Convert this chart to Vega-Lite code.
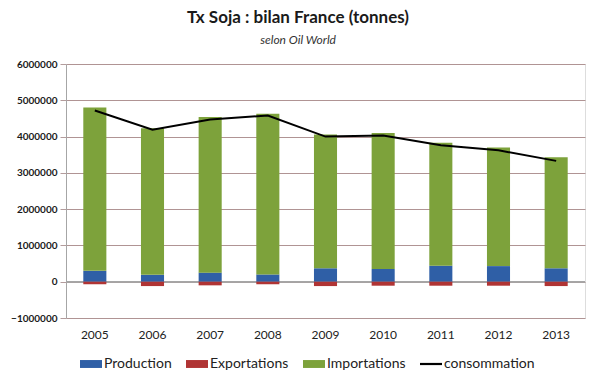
{
  "$schema": "https://vega.github.io/schema/vega-lite/v6.json",
  "width": 519,
  "height": 254,
  "autosize": "none",
  "padding": {"left": 66, "top": 64, "right": 15, "bottom": 61},
  "background": "white",
  "config": {
    "axisY": {
      "labelOverlap": false,
      "labelFlush": false,
      "labelBound": false
    }
  },
  "title": {
    "text": "Tx Soja : bilan France (tonnes)",
    "subtitle": "selon Oil World",
    "anchor": "middle",
    "frame": "bounds",
    "font": "Lato",
    "fontSize": 17,
    "fontWeight": "bold",
    "color": "#1a1a1a",
    "subtitleFont": "Lato",
    "subtitleFontSize": 12,
    "subtitleFontStyle": "italic",
    "subtitleColor": "#333333",
    "subtitlePadding": 8,
    "offset": 12
  },
  "data": {
    "values": [
      {"annee": "2005", "serie": "Production", "valeur": 300000},
      {"annee": "2006", "serie": "Production", "valeur": 190000},
      {"annee": "2007", "serie": "Production", "valeur": 250000},
      {"annee": "2008", "serie": "Production", "valeur": 200000},
      {"annee": "2009", "serie": "Production", "valeur": 370000},
      {"annee": "2010", "serie": "Production", "valeur": 350000},
      {"annee": "2011", "serie": "Production", "valeur": 440000},
      {"annee": "2012", "serie": "Production", "valeur": 430000},
      {"annee": "2013", "serie": "Production", "valeur": 370000},
      {"annee": "2005", "serie": "Exportations", "valeur": -70000},
      {"annee": "2006", "serie": "Exportations", "valeur": -120000},
      {"annee": "2007", "serie": "Exportations", "valeur": -100000},
      {"annee": "2008", "serie": "Exportations", "valeur": -70000},
      {"annee": "2009", "serie": "Exportations", "valeur": -120000},
      {"annee": "2010", "serie": "Exportations", "valeur": -110000},
      {"annee": "2011", "serie": "Exportations", "valeur": -110000},
      {"annee": "2012", "serie": "Exportations", "valeur": -110000},
      {"annee": "2013", "serie": "Exportations", "valeur": -120000},
      {"annee": "2005", "serie": "Importations", "valeur": 4500000},
      {"annee": "2006", "serie": "Importations", "valeur": 4040000},
      {"annee": "2007", "serie": "Importations", "valeur": 4290000},
      {"annee": "2008", "serie": "Importations", "valeur": 4430000},
      {"annee": "2009", "serie": "Importations", "valeur": 3690000},
      {"annee": "2010", "serie": "Importations", "valeur": 3750000},
      {"annee": "2011", "serie": "Importations", "valeur": 3390000},
      {"annee": "2012", "serie": "Importations", "valeur": 3270000},
      {"annee": "2013", "serie": "Importations", "valeur": 3060000},
      {"annee": "2005", "serie": "consommation", "valeur": 4720000},
      {"annee": "2006", "serie": "consommation", "valeur": 4190000},
      {"annee": "2007", "serie": "consommation", "valeur": 4470000},
      {"annee": "2008", "serie": "consommation", "valeur": 4580000},
      {"annee": "2009", "serie": "consommation", "valeur": 4000000},
      {"annee": "2010", "serie": "consommation", "valeur": 4030000},
      {"annee": "2011", "serie": "consommation", "valeur": 3760000},
      {"annee": "2012", "serie": "consommation", "valeur": 3620000},
      {"annee": "2013", "serie": "consommation", "valeur": 3330000}
    ]
  },
  "encoding": {
    "x": {
      "field": "annee",
      "type": "nominal",
      "scale": {"paddingInner": 0.6, "paddingOuter": 0.3},
      "axis": {
        "title": null,
        "labelAngle": 0,
        "domain": false,
        "ticks": false,
        "grid": false,
        "labelFont": "Lato",
        "labelFontSize": 12,
        "labelColor": "#222222",
        "labelPadding": 11
      }
    },
    "y": {
      "field": "valeur",
      "type": "quantitative",
      "scale": {"domain": [-1000000, 6000000], "nice": false, "zero": false},
      "axis": {
        "title": null,
        "values": [-1000000, 0, 1000000, 2000000, 3000000, 4000000, 5000000, 6000000],
        "format": "d",
        "labelOverlap": false,
        "labelFlush": false,
        "labelFont": "Lato",
        "labelFontSize": 10,
        "labelFontWeight": "bold",
        "labelColor": "#1a1a1a",
        "labelPadding": 3,
        "domainColor": "#A6A6A6",
        "tickColor": "#B39C9C",
        "tickSize": 6,
        "grid": true,
        "gridColor": "#B09494",
        "gridOpacity": 1,
        "gridWidth": 1
      }
    },
    "color": {
      "field": "serie",
      "type": "nominal",
      "scale": {
        "domain": ["Production", "Exportations", "Importations", "consommation"],
        "range": ["#2F5FA6", "#B03434", "#7DA23B", "#000000"]
      },
      "legend": {
        "title": null,
        "orient": "none",
        "direction": "horizontal",
        "legendX": 14,
        "legendY": 289,
        "labelFont": "Lato",
        "labelFontSize": 14,
        "labelColor": "#222222",
        "labelOffset": 2,
        "columnPadding": 14,
        "symbolSize": 484,
        "symbolStrokeWidth": 0,
        "encode": {
          "symbols": {
            "update": {
              "shape": {"signal": "datum.value === 'consommation' ? 'M-1,-0.1L1,-0.1L1,0.1L-1,0.1Z' : 'M-1,-0.36L1,-0.36L1,0.36L-1,0.36Z'"},
              "fill": {"scale": "color", "field": "value"},
              "strokeWidth": {"value": 0},
              "opacity": {"value": 1}
            }
          }
        }
      }
    }
  },
  "layer": [
    {
      "mark": {"type": "rule", "color": "#A6A6A6", "strokeWidth": 1},
      "encoding": {"y": {"datum": 0, "type": "quantitative"}, "x": null, "color": null}
    },
    {
      "transform": [{"filter": "datum.serie !== 'consommation'"}],
      "mark": {"type": "bar"},
      "encoding": {
        "y": {"field": "valeur", "type": "quantitative", "stack": "zero"},
        "order": {"field": "serie", "sort": "descending"}
      }
    },
    {
      "transform": [{"filter": "datum.serie === 'consommation'"}],
      "mark": {"type": "line", "strokeWidth": 2}
    }
  ]
}
